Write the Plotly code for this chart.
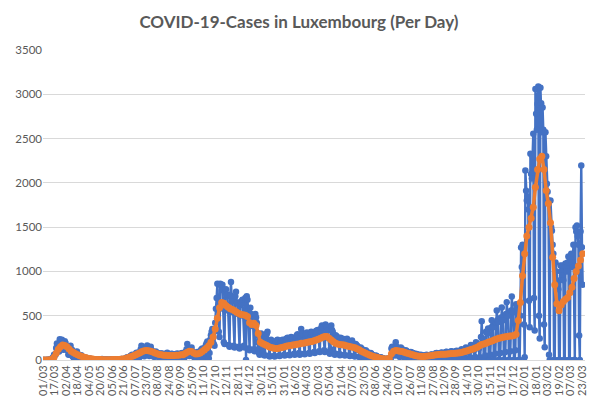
import pandas as pd
import plotly.graph_objects as go

# new cases per day, one row per week (Sunday .. Saturday), first day 01/03/2020
daily_2020 = [
    0, 0, 0, 0, 1, 1, 2,
    1, 2, 3, 3, 12, 7, 25,
    22, 59, 63, 60, 135, 186, 125,
    128, 95, 234, 224, 190, 229, 177,
    116, 120, 211, 193, 158, 119, 110,
    63, 58, 90, 160, 104, 117, 40,
    36, 15, 32, 58, 90, 97, 68,
    48, 23, 30, 52, 53, 39, 34,
    18, 6, 26, 21, 24, 21, 13,
    8, 4, 16, 10, 9, 8, 5,
    4, 2, 5, 9, 6, 4, 3,
    2, 2, 8, 5, 4, 10, 3,
    2, 1, 4, 6, 3, 5, 2,
    1, 2, 3, 4, 6, 9, 5,
    2, 1, 4, 6, 8, 7, 5,
    3, 2, 5, 7, 10, 12, 8,
    6, 4, 12, 19, 22, 30, 21,
    15, 12, 40, 45, 52, 58, 38,
    22, 20, 52, 68, 83, 79, 52,
    30, 28, 90, 120, 162, 110, 74,
    50, 41, 111, 131, 132, 164, 105,
    60, 44, 120, 150, 112, 98, 66,
    40, 35, 80, 96, 82, 81, 55,
    32, 28, 70, 72, 68, 74, 45,
    28, 22, 64, 70, 66, 82, 50,
    26, 20, 60, 62, 70, 68, 44,
    24, 20, 58, 66, 62, 74, 46,
    28, 22, 62, 74, 70, 80, 50,
    30, 26, 80, 96, 120, 182, 110,
    50, 44, 110, 130, 140, 96, 80,
    36, 28, 64, 74, 80, 90, 56,
    12, 30, 90, 110, 120, 130, 78,
    5, 48, 140, 170, 190, 210, 150,
    20, 80, 230, 280, 320, 350, 250,
    180, 160, 420, 580, 700, 860, 600,
    320, 260, 860, 840, 790, 850, 580,
    200, 180, 760, 800, 720, 740, 560,
    170, 150, 730, 880, 690, 660, 540,
    160, 140, 720, 770, 650, 640, 520,
    150, 130, 620, 660, 640, 680, 500,
    160, 140, 700, 0, 720, 680, 560,
    130, 110, 590, 520, 480, 460, 380,
    120, 100, 520, 480, 420, 200, 120,
    80, 60, 240, 300, 220, 110, 90,
]

daily_2021 = [
    60, 50, 250, 280, 300, 320, 210,
    50, 40, 200, 230, 210, 190, 140,
    45, 40, 180, 200, 220, 230, 160,
    50, 45, 190, 210, 220, 230, 170,
    60, 50, 220, 240, 230, 250, 180,
    60, 55, 230, 260, 240, 250, 200,
    70, 60, 250, 260, 280, 290, 210,
    80, 60, 270, 350, 290, 300, 220,
    70, 65, 280, 300, 310, 280, 230,
    80, 70, 290, 320, 300, 310, 240,
    90, 80, 300, 330, 310, 340, 260,
    100, 90, 340, 360, 390, 370, 280,
    110, 90, 400, 380, 370, 330, 250,
    90, 70, 120, 390, 340, 320, 240,
    80, 60, 280, 270, 260, 250, 200,
    70, 55, 250, 240, 230, 240, 180,
    60, 50, 230, 220, 240, 210, 170,
    55, 45, 210, 200, 220, 190, 150,
    45, 40, 180, 170, 160, 150, 110,
    35, 30, 140, 130, 120, 110, 80,
    25, 20, 110, 100, 90, 80, 60,
    18, 15, 80, 70, 60, 55, 40,
    12, 10, 50, 45, 40, 35, 25,
    8, 6, 30, 25, 22, 20, 15,
    5, 4, 15, 12, 10, 14, 10,
    5, 4, 15, 130, 150, 140, 110,
    60, 50, 200, 150, 140, 130, 100,
    40, 35, 140, 130, 120, 110, 90,
    30, 28, 110, 100, 95, 90, 70,
    25, 20, 90, 85, 80, 78, 60,
    0, 15, 70, 65, 60, 62, 45,
    0, 12, 60, 55, 50, 52, 40,
    0, 10, 55, 58, 52, 50, 38,
    0, 12, 60, 62, 58, 56, 42,
    0, 12, 75, 80, 70, 72, 50,
    0, 14, 80, 85, 78, 75, 55,
    0, 15, 90, 92, 85, 82, 60,
    0, 18, 95, 98, 90, 88, 65,
    0, 20, 100, 105, 95, 92, 70,
    0, 20, 110, 120, 100, 98, 72,
    0, 25, 140, 130, 125, 120, 90,
    0, 30, 170, 160, 150, 140, 110,
    0, 35, 200, 190, 180, 170, 130,
    0, 30, 260, 438, 240, 230, 0,
    0, 50, 320, 310, 300, 355, 0,
    0, 60, 360, 450, 380, 370, 0,
    0, 70, 420, 558, 450, 430, 0,
    0, 80, 480, 592, 480, 450, 0,
    0, 90, 520, 652, 520, 500, 0,
    0, 100, 560, 716, 560, 540, 0,
    0, 110, 630, 600, 560, 500, 0,
    0, 500, 1270, 1050, 1300, 1200, 400,
]

daily_2022 = [
    30, 2140, 1910, 1800, 1850, 1700, 670,
    370, 2330, 2100, 2050, 2300, 2555, 700,
    333, 3060, 2780, 2600, 2890, 3087, 500,
    243, 3075, 2900, 2570, 2850, 2600, 400,
    145, 2570, 2300, 1990, 1900, 1800, 60,
    0, 1800, 1500, 1460, 1300, 1200, 0,
    0, 1100, 1000, 900, 863, 800, 0,
    0, 1067, 1000, 950, 1067, 900, 0,
    0, 1090, 1050, 1000, 1100, 1168, 0,
    0, 1168, 1200, 1100, 1050, 1300, 0,
    0, 1500, 1450, 1518, 1400, 1300, 276,
    0, 1450, 2195, 1273, 850,
]

# 7 day average, read every third day from 01/03/2020
avg_7d = [
    0, 0, 1, 2, 5, 30, 75, 120, 150, 168,
    165, 150, 125, 100, 85, 70, 58, 48, 40, 30,
    24, 18, 13, 10, 7, 6, 5, 5, 4, 4,
    4, 4, 5, 5, 6, 7, 8, 10, 15, 22,
    30, 40, 48, 58, 70, 82, 95, 105, 108, 105,
    98, 90, 80, 70, 62, 58, 55, 54, 52, 50,
    50, 52, 54, 55, 58, 60, 72, 88, 100, 95,
    80, 68, 70, 80, 95, 115, 135, 160, 200, 260,
    350, 470, 590, 650, 640, 615, 595, 580, 570, 555,
    540, 525, 515, 510, 505, 490, 420, 400, 415, 390,
    300, 200, 185, 175, 165, 150, 140, 135, 130, 130,
    135, 140, 148, 155, 160, 165, 168, 172, 178, 182,
    188, 190, 195, 200, 205, 210, 218, 225, 235, 245,
    257, 264, 265, 245, 225, 205, 190, 180, 175, 172,
    168, 162, 155, 150, 145, 138, 128, 115, 100, 88,
    75, 65, 55, 45, 38, 32, 25, 18, 15, 12,
    12, 20, 70, 100, 108, 105, 100, 95, 88, 80,
    72, 65, 58, 52, 46, 42, 40, 40, 42, 45,
    48, 52, 56, 60, 62, 64, 65, 66, 68, 70,
    72, 74, 76, 78, 82, 88, 95, 102, 110, 118,
    125, 135, 145, 160, 175, 182, 190, 200, 210, 218,
    228, 238, 245, 252, 258, 262, 266, 270, 272, 276,
    290, 445, 650, 950, 1200, 1400, 1500, 1600, 1725, 1950,
    2150, 2270, 2300, 2150, 1913, 1766, 1550, 1160, 850, 634,
    555, 620, 660, 685, 705, 760, 820, 920, 1000, 1060,
    1130, 1200,
]

daily = daily_2020 + daily_2021 + daily_2022
days = pd.date_range("2020-03-01", periods=len(daily), freq="D")
avg_days = pd.date_range("2020-03-01", periods=len(avg_7d), freq="3D")

grey = "#595959"
font = "Lato"

fig = go.Figure()
fig.add_trace(go.Scatter(x=days, y=daily, mode="lines+markers",
                         line=dict(color="#4472C4", width=2.4),
                         marker=dict(color="#4472C4", size=6.5)))
fig.add_trace(go.Scatter(x=avg_days, y=avg_7d, mode="lines+markers",
                         line=dict(color="#ED7D31", width=3.5),
                         marker=dict(color="#ED7D31", size=7)))

# the page puts the figure 8px in from the top left corner
fig.update_layout(
    width=589, height=397,
    margin=dict(l=35, r=12, t=42, b=45),
    paper_bgcolor="white", plot_bgcolor="white",
    showlegend=False,
    title=dict(text="<b>COVID-19-Cases in Luxembourg (Per Day)</b>",
               x=0.494, xanchor="center", y=0.965, yanchor="middle",
               font=dict(family=font, size=17, color=grey)),
    font=dict(family=font, size=11, color=grey),
)
fig.update_xaxes(
    type="date", automargin=False,
    range=["2020-02-29 14:00", "2022-03-27 05:00"],
    tick0="2020-03-01", dtick=16 * 86400000, tickformat="%d/%m",
    tickangle=-90, showgrid=False,
    showline=True, linecolor="#D9D9D9", linewidth=1,
    ticks="", tickfont=dict(size=11, color=grey),
)
fig.update_yaxes(
    range=[0, 3500], dtick=500, automargin=False,
    showgrid=True, gridcolor="#D9D9D9", gridwidth=1,
    zeroline=False, showline=False, ticks="",
    tickfont=dict(size=11.5, color=grey),
)

fig.write_html("out.html")
